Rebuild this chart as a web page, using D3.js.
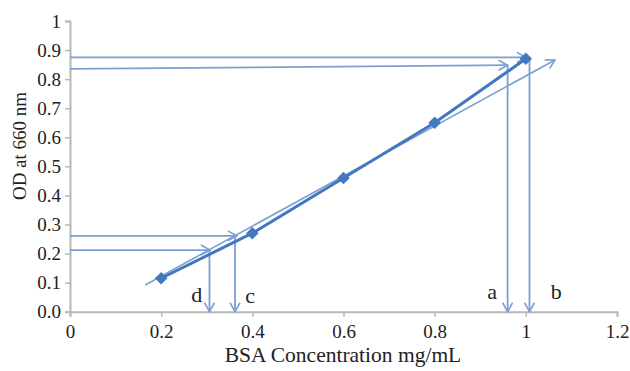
<!DOCTYPE html>
<html>
<head>
<meta charset="utf-8">
<script src="https://cdn.jsdelivr.net/npm/d3@7"></script>
<style>
  body { margin: 0; background: #fff; }
  text { font-family: "Liberation Serif", "DejaVu Serif", serif; fill: #222; }
</style>
</head>
<body>
<figure id="chart" style="margin:0"></figure>
<script>
// standard curve data
const conc = [0.2, 0.4, 0.6, 0.8, 1.0];
const od = [0.115, 0.27, 0.46, 0.65, 0.87];

// hand-drawn trend arrow
const trendX = [0.165, 1.064];
const trendY = [0.092, 0.866];

// reading arrows (start -> end)
const arrowX1 = [0, 0, 0, 0, 0.96, 1.008, 0.362, 0.306];
const arrowY1 = [0.875, 0.835, 0.261, 0.212, 0.848, 0.872, 0.261, 0.212];
const arrowX2 = [1.0, 0.96, 0.366, 0.307, 0.96, 1.008, 0.362, 0.306];
const arrowY2 = [0.875, 0.848, 0.261, 0.212, 0.0, 0.0, 0.0, 0.0];

const letters = ["a", "b", "c", "d"];
const letterX = [0.926, 1.067, 0.395, 0.278];
const letterY = [0.044, 0.044, 0.03, 0.033];

const xTicks = [0, 0.2, 0.4, 0.6, 0.8, 1, 1.2];
const xTickLabels = ["0", "0.2", "0.4", "0.6", "0.8", "1", "1.2"];
const yTicks = [0, 0.1, 0.2, 0.3, 0.4, 0.5, 0.6, 0.7, 0.8, 0.9, 1];
const yTickLabels = ["0.0", "0.1", "0.2", "0.3", "0.4", "0.5", "0.6", "0.7", "0.8", "0.9", "1"];

const W = 630, H = 371;
const margin = { top: 21, right: 13, bottom: 59.3, left: 70 };
const width = W - margin.left - margin.right;
const height = H - margin.top - margin.bottom;

const svg = d3.select("figure#chart")
  .append("svg")
  .attr("width", W)
  .attr("height", H);

const defs = svg.append("defs");
defs.append("marker")
  .attr("id", "head")
  .attr("viewBox", "0 0 12 12")
  .attr("refX", 11)
  .attr("refY", 6)
  .attr("markerWidth", 12)
  .attr("markerHeight", 12)
  .attr("markerUnits", "userSpaceOnUse")
  .attr("orient", "auto")
  .append("path")
  .attr("d", "M2,1 L11,6 L2,11")
  .attr("fill", "none")
  .attr("stroke", "#7a9fd3")
  .attr("stroke-width", 1.6);

const g = svg.append("g")
  .attr("transform", "translate(" + margin.left + "," + margin.top + ")");

const x = d3.scaleLinear().domain([0, 1.2]).range([0, width]);
const y = d3.scaleLinear().domain([0, 1]).range([height, 0]);

// x axis
const xAxis = g.append("g")
  .attr("transform", "translate(0," + height + ")")
  .call(d3.axisBottom(x).tickValues(xTicks).tickSize(5).tickPadding(8)
    .tickFormat((d, i) => xTickLabels[i]));
xAxis.selectAll("text").style("font-size", "19px");

// y axis
const yAxis = g.append("g")
  .call(d3.axisLeft(y).tickValues(yTicks).tickSize(5).tickPadding(4)
    .tickFormat((d, i) => yTickLabels[i]));
yAxis.selectAll("text").style("font-size", "19px");

[xAxis, yAxis].forEach(a => {
  a.select(".domain").attr("stroke", "#b8b8b8").attr("stroke-width", 2);
  a.selectAll(".tick line").attr("stroke", "#b8b8b8").attr("stroke-width", 1.5);
  a.selectAll("text").attr("fill", "#222");
});

// reading arrows
g.selectAll(".arrow")
  .data(arrowX1.map((d, i) => i))
  .enter()
  .append("line")
  .attr("class", "arrow")
  .attr("x1", i => x(arrowX1[i]))
  .attr("y1", i => y(arrowY1[i]))
  .attr("x2", i => x(arrowX2[i]))
  .attr("y2", i => y(arrowY2[i]))
  .attr("stroke", "#7a9fd3")
  .attr("stroke-width", 1.8)
  .attr("marker-end", "url(#head)");

// trend arrow
g.append("line")
  .attr("x1", x(trendX[0]))
  .attr("y1", y(trendY[0]))
  .attr("x2", x(trendX[1]))
  .attr("y2", y(trendY[1]))
  .attr("stroke", "#7a9fd3")
  .attr("stroke-width", 1.6)
  .attr("marker-end", "url(#head)");

// series line
const pts = conc.map((c, i) => [c, od[i]]);
g.append("path")
  .datum(pts)
  .attr("fill", "none")
  .attr("stroke", "#4178bf")
  .attr("stroke-width", 3)
  .attr("d", d3.line().x(d => x(d[0])).y(d => y(d[1])));

g.selectAll(".pt")
  .data(pts)
  .enter()
  .append("path")
  .attr("class", "pt")
  .attr("transform", d => "translate(" + x(d[0]) + "," + y(d[1]) + ")")
  .attr("d", d3.symbol().type(d3.symbolDiamond2).size(100))
  .attr("fill", "#4178bf");

// letter labels
g.selectAll(".lbl")
  .data(letters)
  .enter()
  .append("text")
  .attr("class", "lbl")
  .attr("x", (d, i) => x(letterX[i]))
  .attr("y", (d, i) => y(letterY[i]))
  .attr("text-anchor", "middle")
  .style("font-size", "22px")
  .text(d => d);

// axis titles
svg.append("text")
  .attr("x", 343)
  .attr("y", 362)
  .attr("text-anchor", "middle")
  .style("font-size", "21.5px")
  .text("BSA Concentration mg/mL");

svg.append("text")
  .attr("transform", "translate(26,146) rotate(-90)")
  .attr("text-anchor", "middle")
  .style("font-size", "19px")
  .text("OD at 660 nm");
</script>
</body>
</html>
